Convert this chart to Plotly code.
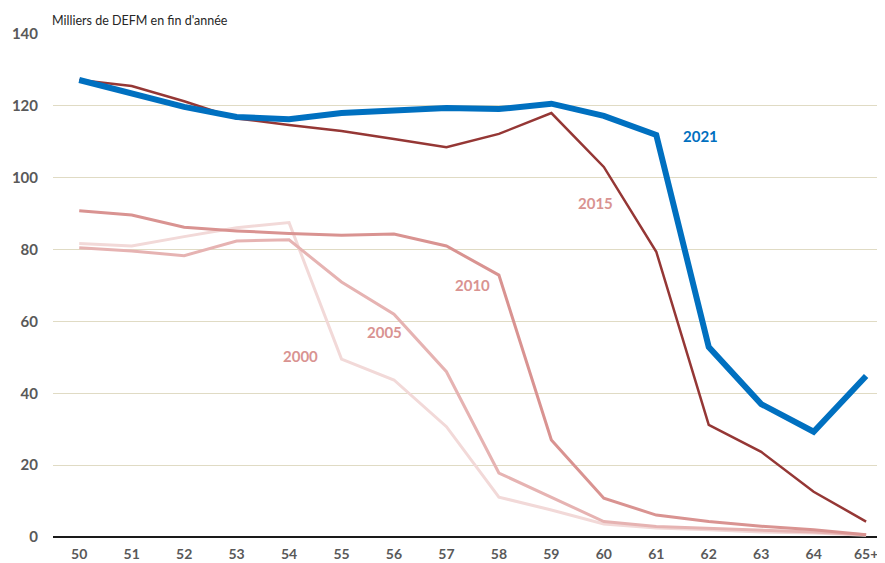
import plotly.graph_objects as go

categories = ["50", "51", "52", "53", "54", "55", "56", "57", "58", "59", "60", "61", "62", "63", "64", "65+"]

y2000 = [81.7, 81.0, 83.6, 86.1, 87.5, 49.5, 43.7, 30.7, 11.1, 7.5, 3.6, 2.5, 2.0, 1.4, 1.1, 0.5]
y2005 = [80.5, 79.6, 78.3, 82.4, 82.7, 71.0, 62.0, 46.0, 17.8, 11.1, 4.3, 2.9, 2.4, 1.9, 1.4, 0.6]
y2010 = [90.8, 89.6, 86.2, 85.2, 84.5, 84.0, 84.3, 81.0, 72.9, 27.0, 10.8, 6.1, 4.3, 3.0, 2.0, 0.6]
y2015 = [127.2, 125.5, 121.3, 116.5, 114.7, 113.0, 110.8, 108.5, 112.2, 118.0, 103.0, 79.4, 31.2, 23.7, 12.6, 4.3]
y2021 = [127.2, 123.6, 119.7, 116.9, 116.3, 118.0, 118.6, 119.4, 119.1, 120.6, 117.2, 111.9, 52.9, 37.0, 29.3, 44.8]

series = [
    ("2000", y2000, "#F2D9D8", 3),
    ("2005", y2005, "#E6B3B2", 3),
    ("2010", y2010, "#D99391", 3),
    ("2015", y2015, "#953735", 2.5),
    ("2021", y2021, "#0070C0", 6),
]

# label positions: (text, category index, value, colour)
labels = [
    ("2000", 4.22, 50.4, "#D99391"),
    ("2005", 5.82, 57.0, "#D99391"),
    ("2010", 7.5, 70.1, "#D99391"),
    ("2015", 9.85, 93.0, "#D99391"),
    ("2021", 11.85, 111.6, "#0070C0"),
]

# page body has an 8px margin; compensate
W, H = 877, 555
L, R, T, B = 45, 0, 26, 26

fig = go.Figure()
for name, ys, col, w in series:
    fig.add_trace(go.Scatter(x=categories, y=ys, mode="lines", name=name,
                             line=dict(color=col, width=w), showlegend=False))

for txt, xi, yv, col in labels:
    fig.add_annotation(x=xi, y=yv, text="<b>%s</b>" % txt, showarrow=False,
                       font=dict(family="Lato", size=15, color=col),
                       xref="x", yref="y")

fig.add_annotation(x=(42 - L) / (W - L - R), y=1 + (T - 12) / (H - T - B),
                   xref="paper", yref="paper", xanchor="left", yanchor="middle",
                   text="Milliers de DEFM en fin d'année",
                   showarrow=False, font=dict(family="Lato", size=12.5, color="#262626"))

fig.update_layout(
    width=W, height=H,
    margin=dict(l=L, r=R, t=T, b=B, autoexpand=False),
    paper_bgcolor="white", plot_bgcolor="white",
    font=dict(family="Lato", color="#595959"),
)

fig.update_xaxes(type="category", range=[-0.5, 15.36], showgrid=False, automargin=False,
                 showline=False, zeroline=False, ticks="",
                 tickfont=dict(family="Lato", size=14, color="#595959", weight="bold"),
                 ticklabelstandoff=7)
fig.update_yaxes(range=[0, 140], dtick=20, showgrid=True, gridcolor="#E0DBC4", gridwidth=1,
                 automargin=False,
                 zeroline=True, zerolinecolor="#1a1a1a", zerolinewidth=2,
                 showline=False, ticks="",
                 tickfont=dict(family="Lato", size=15, color="#595959", weight="bold"),
                 ticklabelstandoff=14)

fig.write_html("out.html")
